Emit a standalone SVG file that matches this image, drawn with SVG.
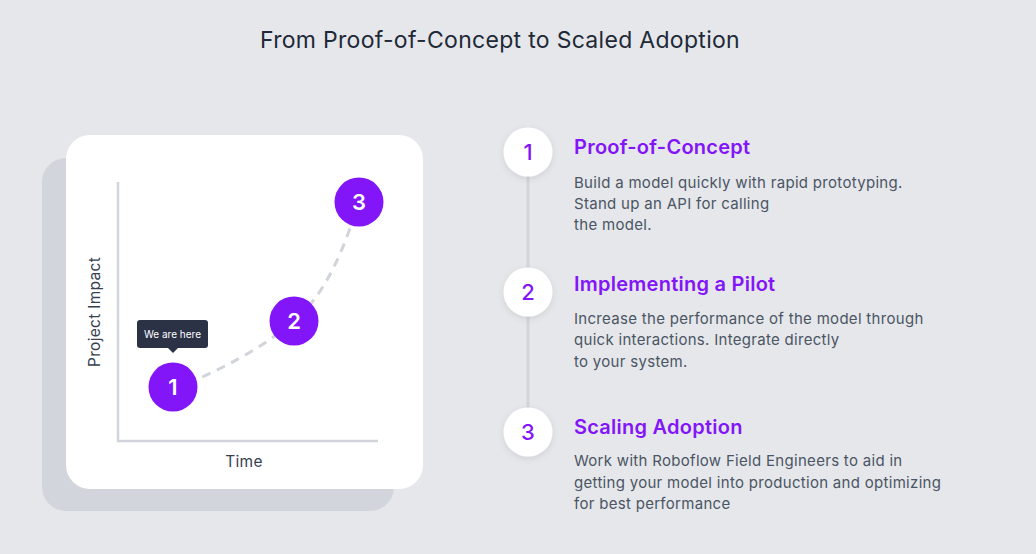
<svg xmlns="http://www.w3.org/2000/svg" width="1036" height="554" viewBox="0 0 1036 554">
<defs>
<filter id="sh" x="-50%" y="-50%" width="200%" height="200%">
<feDropShadow dx="0" dy="2" stdDeviation="3" flood-color="#000" flood-opacity="0.10"/>
</filter>
<style>
.t{font-family:Inter,"Noto Sans","Liberation Sans",sans-serif}
.title{font-size:23px;fill:#1f2937;letter-spacing:0.3px}
.ax{font-size:15.5px;fill:#374151;letter-spacing:0.3px}
.pc{fill:#8315f9}
.pn{font-size:22px;font-weight:600;fill:#fff;text-anchor:middle}
.wc{fill:#fff;filter:url(#sh)}
.wn{font-size:22px;font-weight:500;fill:#8315f9;text-anchor:middle}
.h{font-size:20px;font-weight:600;fill:#8315f9;letter-spacing:0.25px}
.b{font-size:15px;fill:#4b5563;letter-spacing:0.3px}
</style>
</defs>
<rect width="1036" height="554" fill="#e5e7eb"/>
<text class="t title" x="500" y="48" text-anchor="middle">From Proof-of-Concept to Scaled Adoption</text>

<g id="chart-card">
<rect x="42" y="158" width="352" height="353" rx="24" fill="#d2d5dc"/>
<rect x="66" y="135" width="357" height="354" rx="24" fill="#fff"/>
<path d="M118,182 V441 H378" fill="none" stroke="#d1d5db" stroke-width="2.5"/>
<text class="t ax" x="0" y="0" transform="translate(100,312) rotate(-90)" text-anchor="middle">Project Impact</text>
<text class="t ax" x="244" y="467" text-anchor="middle">Time</text>
</g>

<g id="connectors">
<path d="M173,390 C220,370 260,350 294,321 S345,245 359,202" fill="none" stroke="#d1d5db" stroke-width="3" stroke-dasharray="9,7"/>
<line x1="528" y1="170" x2="528" y2="420" stroke="#d1d5db" stroke-width="3"/>
</g>

<g id="tooltip">
<rect x="137" y="320" width="71" height="28" rx="3" fill="#2b3245"/>
<path d="M167,347 L173,353 L179,347 Z" fill="#2b3245"/>
<text class="t" x="172.5" y="337.5" font-size="10" fill="#fff" text-anchor="middle">We are here</text>
</g>

<g id="point-1"><circle class="pc" cx="173" cy="387" r="24.5"/><text class="t pn" x="173" y="395">1</text></g>
<g id="point-2"><circle class="pc" cx="294" cy="321" r="24.5"/><text class="t pn" x="294" y="329">2</text></g>
<g id="point-3"><circle class="pc" cx="359" cy="202" r="24.5"/><text class="t pn" x="359" y="210">3</text></g>

<g id="step-1">
<circle class="wc" cx="528" cy="152" r="24.5"/>
<text class="t wn" x="528" y="160">1</text>
<text class="t h" x="574" y="154">Proof-of-Concept</text>
<text class="t b" x="574" y="188">Build a model quickly with rapid prototyping.</text>
<text class="t b" x="574" y="209">Stand up an API for calling</text>
<text class="t b" x="574" y="230">the model.</text>
</g>
<g id="step-2">
<circle class="wc" cx="528" cy="292" r="24.5"/>
<text class="t wn" x="528" y="300">2</text>
<text class="t h" x="574" y="291">Implementing a Pilot</text>
<text class="t b" x="574" y="324">Increase the performance of the model through</text>
<text class="t b" x="574" y="345">quick interactions. Integrate directly</text>
<text class="t b" x="574" y="367">to your system.</text>
</g>
<g id="step-3">
<circle class="wc" cx="528" cy="432" r="24.5"/>
<text class="t wn" x="528" y="440">3</text>
<text class="t h" x="574" y="434">Scaling Adoption</text>
<text class="t b" x="574" y="466">Work with Roboflow Field Engineers to aid in</text>
<text class="t b" x="574" y="488">getting your model into production and optimizing</text>
<text class="t b" x="574" y="509">for best performance</text>
</g>
</svg>
